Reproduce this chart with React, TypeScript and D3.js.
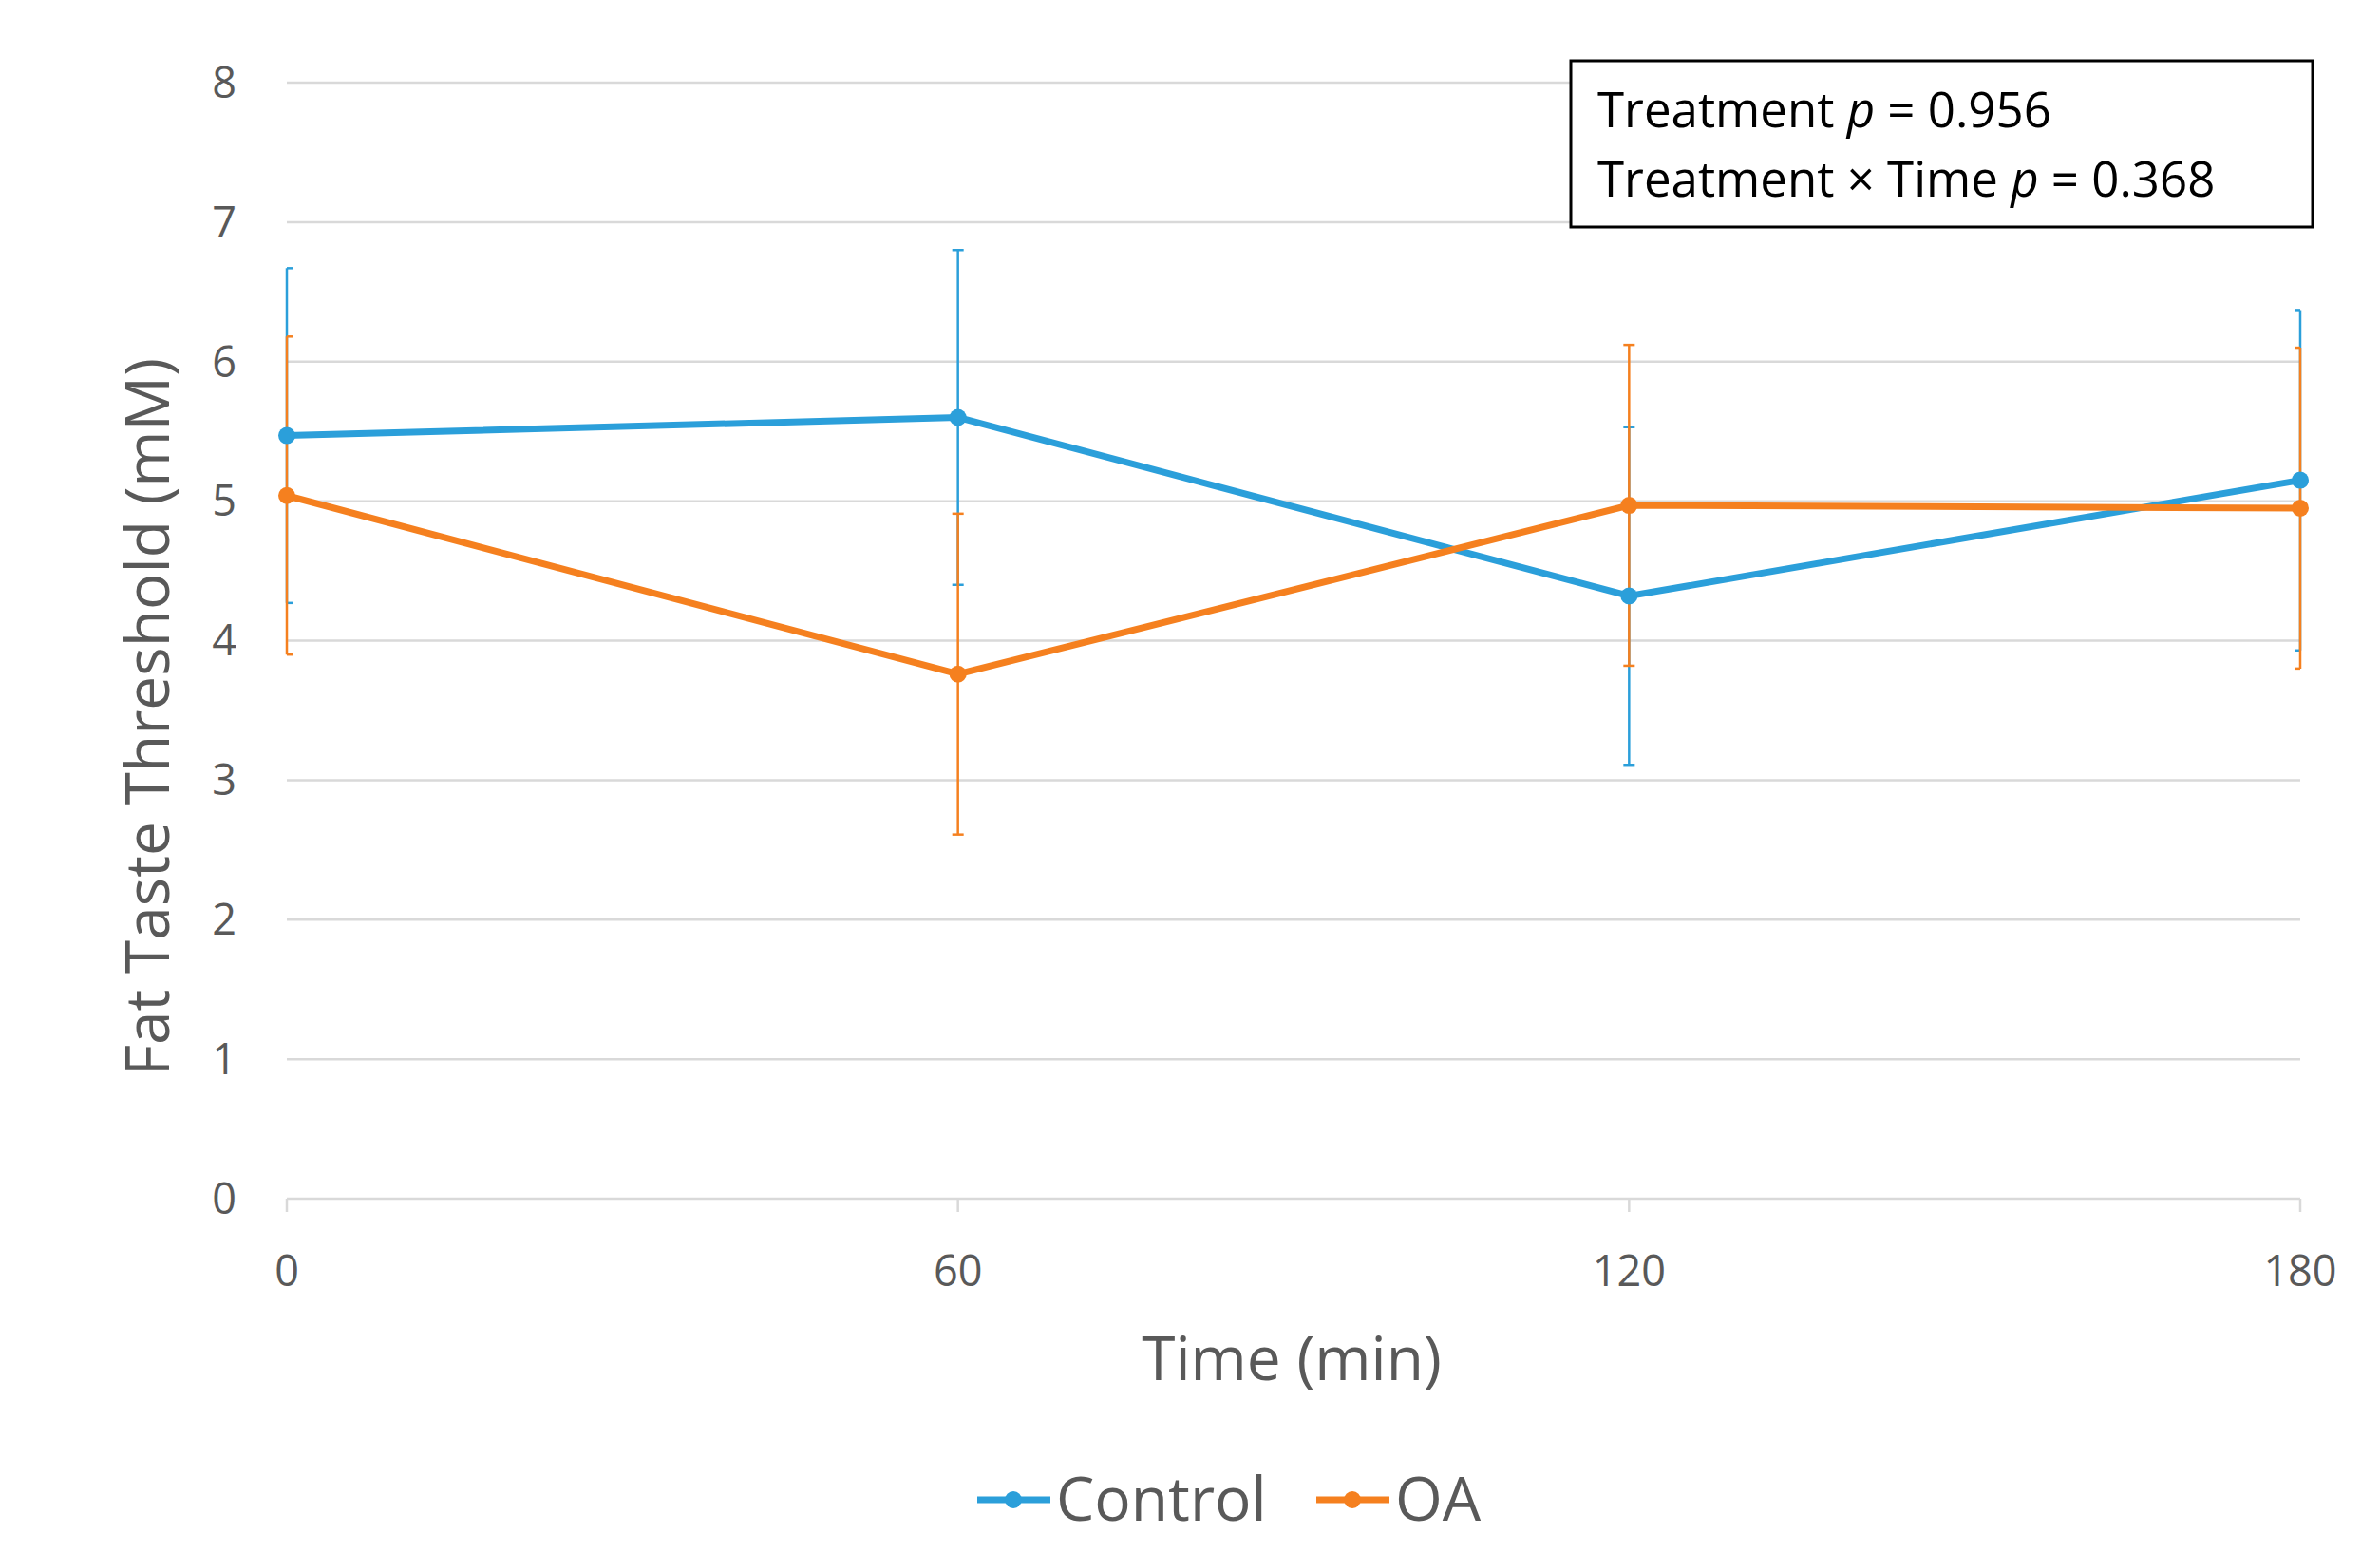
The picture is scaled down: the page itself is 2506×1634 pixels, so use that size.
import React from "react";
import * as d3 from "d3";

const times = [0, 60, 120, 180];
const controlMean = [5.47, 5.6, 4.32, 5.15];
const controlErr = [1.2, 1.2, 1.21, 1.22];
const oaMean = [5.04, 3.76, 4.97, 4.95];
const oaErr = [1.14, 1.15, 1.15, 1.15];
const yTicks = [0, 1, 2, 3, 4, 5, 6, 7, 8];

const W = 2506, H = 1634;
const x = d3.scaleLinear().domain([0, 180]).range([294, 2414]);
const y = d3.scaleLinear().domain([0, 8]).range([1254, 79]);
const gray = "#595959";
const font = "'Open Sans', sans-serif";

const series = [
  { name: "Control", mean: controlMean, err: controlErr, color: "#2b9fda" },
  { name: "OA", mean: oaMean, err: oaErr, color: "#f5801f" },
];

export default function App() {
  const line = d3.line<number>().x((_, i) => x(times[i])).y((d) => y(d));
  return (
    <svg width={W} height={H} style={{ display: "block", background: "#fff" }} fontFamily={font}>
      {yTicks.map((t) => (
        <g key={t}>
          <line x1={x(0)} x2={x(180)} y1={y(t)} y2={y(t)} stroke="#d9d9d9" strokeWidth={2.5} />
          <text x={241} y={y(t)} dy="0.35em" textAnchor="end" fontSize={45} fill={gray}>{t}</text>
        </g>
      ))}
      {times.map((t) => (
        <g key={t}>
          <line x1={x(t)} x2={x(t)} y1={y(0)} y2={y(0) + 14} stroke="#d9d9d9" strokeWidth={2.5} />
          <text x={x(t)} y={1330} dy="0.35em" textAnchor="middle" fontSize={45} fill={gray}>{t}</text>
        </g>
      ))}
      {series.map((s) => (
        <g key={s.name}>
          {s.mean.map((m, i) => {
            const cx = x(times[i]);
            const x1 = i === 0 ? cx : cx - 6;
            const x2 = i === times.length - 1 ? cx : cx + 6;
            return (
              <g key={i} stroke={s.color} strokeWidth={2.5}>
                <line x1={cx} x2={cx} y1={y(m - s.err[i])} y2={y(m + s.err[i])} />
                <line x1={x1} x2={x2} y1={y(m - s.err[i])} y2={y(m - s.err[i])} />
                <line x1={x1} x2={x2} y1={y(m + s.err[i])} y2={y(m + s.err[i])} />
              </g>
            );
          })}
        </g>
      ))}
      {series.map((s) => (
        <g key={s.name + "l"}>
          <path d={line(s.mean) || ""} fill="none" stroke={s.color} strokeWidth={7} />
          {s.mean.map((m, i) => (
            <circle key={i} cx={x(times[i])} cy={y(m)} r={9} fill={s.color} />
          ))}
        </g>
      ))}
      <text x={1352} y={1423} dy="0.35em" textAnchor="middle" fontSize={64} fill={gray}>Time (min)</text>
      <text transform={`translate(148,747) rotate(-90)`} dy="0.35em" textAnchor="middle" fontSize={64} fill={gray}>Fat Taste Threshold (mM)</text>
      <rect x={1646} y={56} width={781} height={175} fill="#fff" stroke="#000" strokeWidth={3} />
      <text x={1674} y={108} dy="0.35em" fontSize={51} fill="#000">Treatment <tspan fontStyle="italic">p</tspan> = 0.956</text>
      <text x={1674} y={181} dy="0.35em" fontSize={51} fill="#000">Treatment × Time <tspan fontStyle="italic">p</tspan> = 0.368</text>
      {series.map((s, k) => {
        const lx = k === 0 ? 1021 : 1378;
        return (
          <g key={s.name + "g"}>
            <line x1={lx} x2={lx + 77} y1={1571} y2={1571} stroke={s.color} strokeWidth={7} />
            <circle cx={lx + 38} cy={1571} r={9} fill={s.color} />
            <text x={lx + 83} y={1571} dy="0.35em" fontSize={64} fill={gray}>{s.name}</text>
          </g>
        );
      })}
    </svg>
  );
}
